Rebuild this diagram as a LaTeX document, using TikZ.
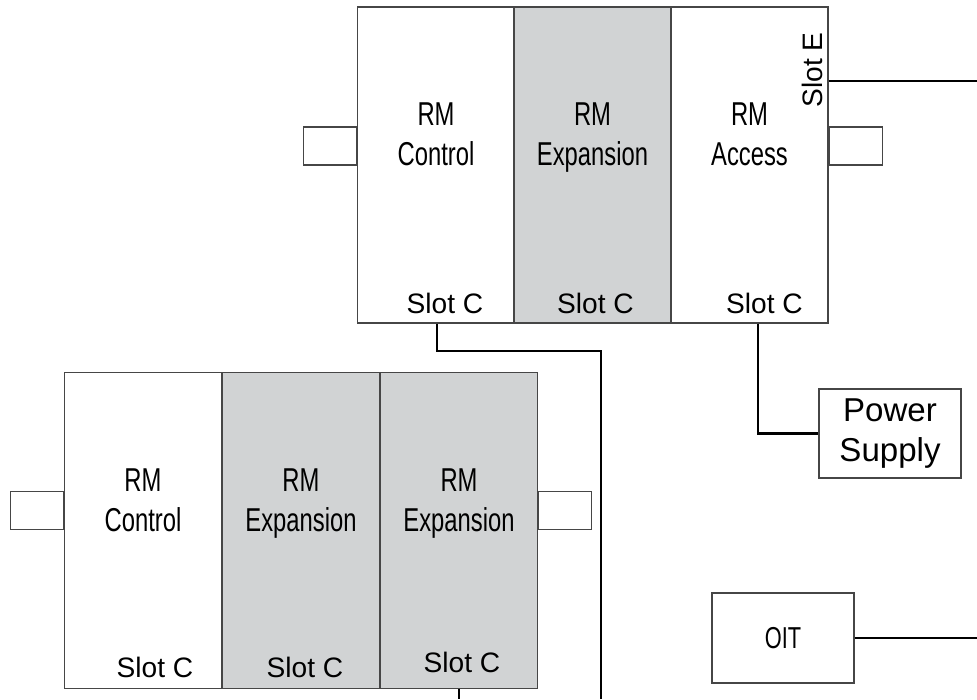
\documentclass[tikz,border=0pt]{standalone}
\usepackage{fontspec}
\setmainfont{Liberation Sans}
\newfontfamily\narrowfont[FakeStretch=0.72]{Liberation Sans}
\usetikzlibrary{positioning}

\definecolor{slotgray}{RGB}{209,211,212}
\definecolor{edgegray}{RGB}{70,70,70}

\begin{document}
\begin{tikzpicture}[x=0.01cm,y=-0.01cm,
  slotbox/.style={draw=edgegray,line width=0.35pt,minimum width=1.57cm,minimum height=3.16cm,inner sep=0pt},
  modname/.style={font=\narrowfont\fontsize{9.4}{11.4}\selectfont,align=center,inner sep=0pt,anchor=north},
  slotlbl/.style={font=\fontsize{8}{9}\selectfont,inner sep=0pt},
  tab/.style={draw=edgegray,line width=0.35pt,minimum width=0.53cm,minimum height=0.38cm,inner sep=0pt},
  unitbox/.style={draw=edgegray,line width=0.35pt,minimum width=1.42cm,minimum height=0.9cm,inner sep=0pt},
  wire/.style={line width=0.65pt}]
\useasboundingbox (0,0) rectangle (977,699);

% Upper chassis: control, expansion, access
\node[slotbox] (tc) at (436,165) {};
\node[slotbox,fill=slotgray] (te) at (592.5,165) {};
\node[slotbox] (ta) at (749.5,165) {};
\node[modname] at ([yshift=-0.96cm]tc.north) {RM\\Control};
\node[modname] at ([yshift=-0.96cm]te.north) {RM\\Expansion};
\node[modname] at ([yshift=-0.96cm]ta.north) {RM\\Access};
\node[slotlbl] at ([xshift=0.09cm,yshift=0.2cm]tc.south) {Slot C};
\node[slotlbl] at ([xshift=0.03cm,yshift=0.2cm]te.south) {Slot C};
\node[slotlbl] at ([xshift=0.15cm,yshift=0.2cm]ta.south) {Slot C};
\node[slotlbl,rotate=90] (slotE) at (812,70) {Slot E};
\node[tab,anchor=east] (tl) at ([yshift=0.19cm]tc.west) {};
\node[tab,anchor=west] (tr) at ([yshift=0.19cm]ta.east) {};

% Lower chassis: control and two expansions
\node[slotbox] (bc) at (143,530.5) {};
\node[slotbox,fill=slotgray] (be1) at (301,530.5) {};
\node[slotbox,fill=slotgray] (be2) at (459,530.5) {};
\node[modname] at ([yshift=-0.96cm]bc.north) {RM\\Control};
\node[modname] at ([yshift=-0.96cm]be1.north) {RM\\Expansion};
\node[modname] at ([yshift=-0.96cm]be2.north) {RM\\Expansion};
\node[slotlbl] at ([xshift=0.12cm,yshift=0.22cm]bc.south) {Slot C};
\node[slotlbl] at ([xshift=0.04cm,yshift=0.22cm]be1.south) {Slot C};
\node[slotlbl] at ([xshift=0.03cm,yshift=0.27cm]be2.south) {Slot C};
\node[tab,anchor=east] (bl) at ([yshift=0.2cm]bc.west) {};
\node[tab,anchor=west] (br) at ([yshift=0.2cm]be2.east) {};

% Power supply and operator terminal
\node[unitbox,minimum height=0.89cm,font=\fontsize{9.4}{11.4}\selectfont,align=center] (ps) at (890,433.5) {Power\\Supply};
\node[unitbox,font=\narrowfont\fontsize{8.6}{10}\selectfont] (oit) at (783,638) {OIT};

% Wiring
\coordinate (edgeR) at (977,0);
\coordinate (edgeB) at (0,699);
\draw[wire] ([xshift=0.01cm]tc.south) -- ++(0,27) -| (601,699);
\draw[wire] ([xshift=0.085cm]ta.south) |- (ps.west);
\draw[wire] ([yshift=-0.75cm]ta.north east) -- ([yshift=-0.75cm]ta.north east -| edgeR);
\draw[wire] (oit.east) -- (oit.east -| edgeR);
\draw[wire] (be2.south) -- (be2.south |- edgeB);

\end{tikzpicture}
\end{document}
